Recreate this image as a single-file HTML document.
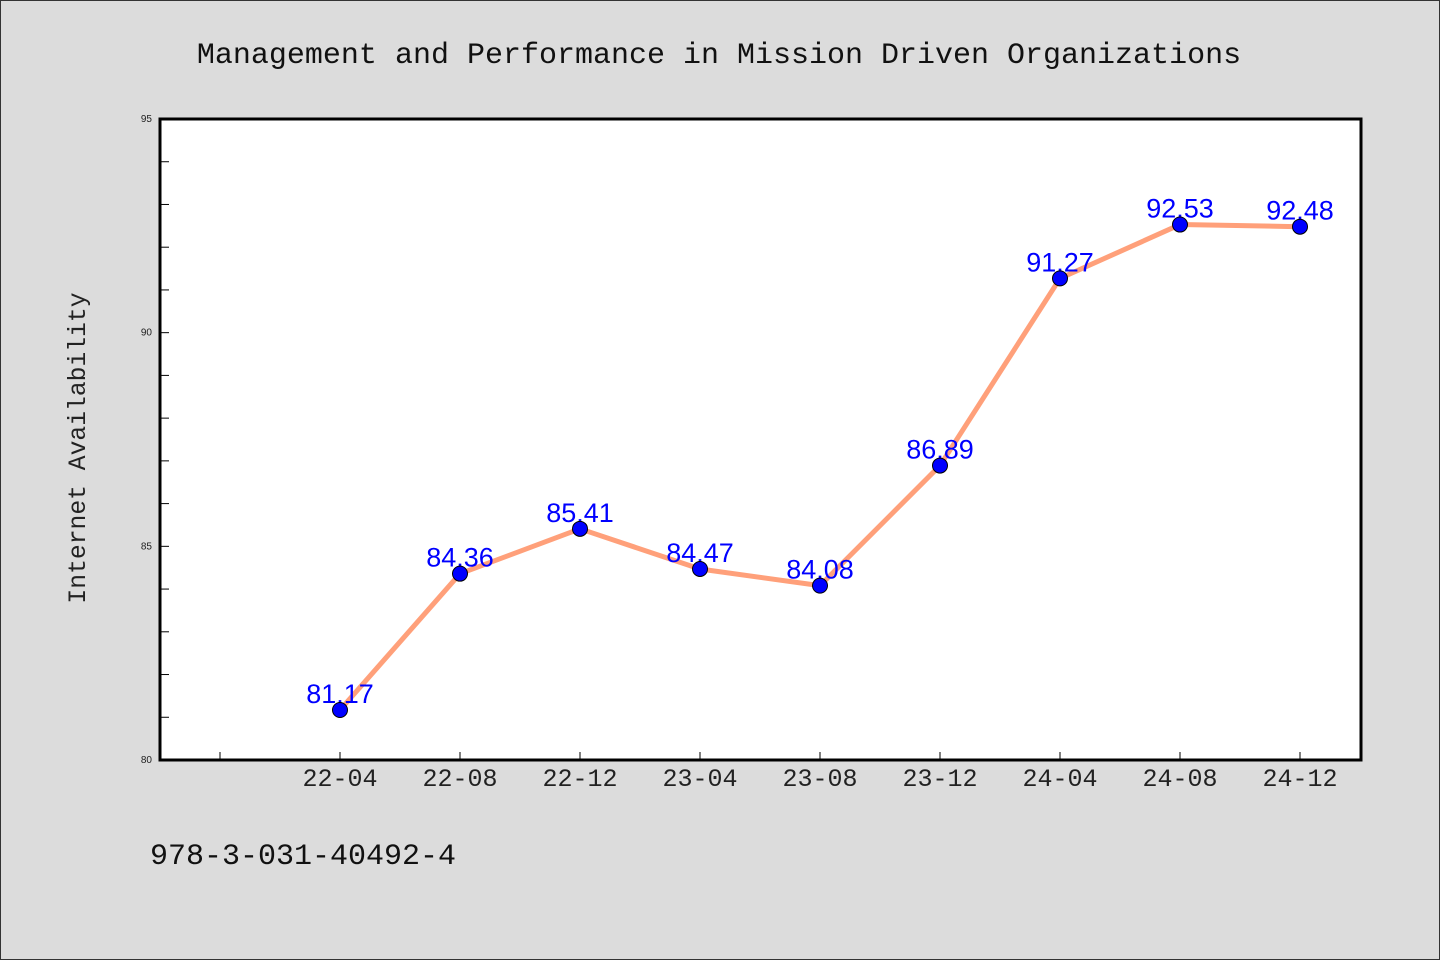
<!DOCTYPE html>
<html><head><meta charset="utf-8"><style>
html,body{margin:0;padding:0;background:#dcdcdc}
svg{display:block}
</style></head><body>
<svg width="1440" height="960" xmlns="http://www.w3.org/2000/svg">
<rect x="0.5" y="0.5" width="1439" height="959" fill="#dcdcdc" stroke="#333"/>
<text x="719" y="63" text-anchor="middle" font-family="'Liberation Mono',monospace" font-size="30" fill="#111">Management and Performance in Mission Driven Organizations</text>
<rect x="160" y="119" width="1201" height="641" fill="#fff"/>
<g id="axes"></g>
<g id="marks"></g>
<rect x="160" y="119" width="1201" height="641" fill="none" stroke="#000" stroke-width="3"/>
<text transform="translate(85,448) rotate(-90)" text-anchor="middle" font-family="'Liberation Mono',monospace" font-size="24.7" fill="#222">Internet Availability</text>
<text x="150" y="864" font-family="'Liberation Mono',monospace" font-size="30" fill="#111">978-3-031-40492-4</text>
</svg>
<script>
const categories=["22-04","22-08","22-12","23-04","23-08","23-12","24-04","24-08","24-12"];
const values=[81.17,84.36,85.41,84.47,84.08,86.89,91.27,92.53,92.48];
const labels=["81.17","84.36","85.41","84.47","84.08","86.89","91.27","92.53","92.48"];
const yTicks=[80,85,90,95];
const NS="http://www.w3.org/2000/svg";
const yMin=80,yMax=95,plotTop=119,plotBot=760;
function y(v){return plotBot-(v-yMin)/(yMax-yMin)*(plotBot-plotTop);}
function x(i){return 340+120*i;}
function mk(tag,attrs,parent,text){const e=document.createElementNS(NS,tag);for(const k in attrs)e.setAttribute(k,attrs[k]);if(text!=null)e.textContent=text;parent.appendChild(e);return e;}
const axes=document.getElementById('axes'),marks=document.getElementById('marks');
for(let v=yMin+1;v<yMax;v++){const t=mk('line',{x1:160,x2:169,y1:y(v),y2:y(v),stroke:'#000','stroke-width':1},axes);

}
yTicks.forEach(v=>{const t=mk('text',{x:152,y:y(v)+3,'text-anchor':'end','font-family':'Liberation Sans,sans-serif','font-size':10,fill:'#222'},axes,String(v));

});
for(let i=-1;i<categories.length;i++){const t=mk('line',{x1:x(i),x2:x(i),y1:760,y2:752,stroke:'#000','stroke-width':1},axes);

}
categories.forEach((c,i)=>{const t=mk('text',{x:x(i),y:786,'text-anchor':'middle','font-family':'Liberation Mono,monospace','font-size':25,fill:'#222'},axes,c);

});
const line=mk('polyline',{points:values.map((v,i)=>x(i)+','+y(v)).join(' '),fill:'none',stroke:'#ffa07a','stroke-width':5,'stroke-linejoin':'round'},marks);


values.forEach((v,i)=>{const t=mk('text',{x:x(i),y:y(v)-7,'text-anchor':'middle','font-family':'Liberation Sans,sans-serif','font-size':27,fill:'#0000ff'},marks,labels[i]);

});
values.forEach((v,i)=>{const c=mk('circle',{cx:x(i),cy:y(v),r:7.5,fill:'#0000ff',stroke:'#000','stroke-width':1},marks);

});
</script>
</body></html>
